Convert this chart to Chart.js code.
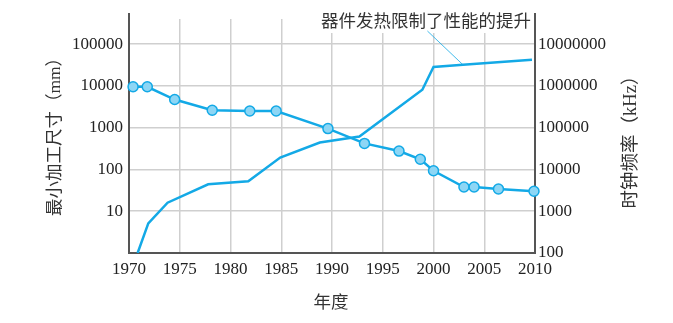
<!DOCTYPE html>
<html>
<head>
<meta charset="utf-8">
<script src="https://cdn.jsdelivr.net/npm/chart.js@4/dist/chart.umd.min.js"></script>
<style>
  html, body { margin: 0; padding: 0; background: #fff; }
  #wrap { width: 673px; height: 323px; position: relative; }
</style>
</head>
<body>
<div id="wrap"><canvas id="chipChart"></canvas></div>
<script>
// 最小加工尺寸 (左轴, mm)
const sizeYears  = [1970.4, 1971.8, 1974.5, 1978.2, 1981.9, 1984.5, 1989.6, 1993.2, 1996.6, 1998.7, 2000.0, 2003.0, 2004.0, 2006.4, 2009.9];
const sizeValues = [9500, 9500, 4700, 2600, 2500, 2500, 950, 420, 275, 175, 93, 38, 38, 34, 30];

// 时钟频率 (右轴, kHz)
const clockYears  = [1970.85, 1971.9, 1973.8, 1977.8, 1981.75, 1984.9, 1988.8, 1992.7, 1998.9, 2000.0, 2002.9, 2009.7];
const clockValues = [100, 510, 1600, 4400, 5200, 19300, 44000, 61000, 810000, 2840000, 3200000, 4200000];

// 刻度
const yearTicks  = [1970, 1975, 1980, 1985, 1990, 1995, 2000, 2005, 2010];
const leftTicks  = [10, 100, 1000, 10000, 100000];
const rightTicks = [100, 1000, 10000, 100000, 1000000, 10000000];

const annoText = '器件发热限制了性能的提升';
const annoIndex = 10; // 指向 2003 年附近的时钟频率点

const blue = '#13a9e6';
const FONT = "'Liberation Serif', 'Noto Sans CJK SC', serif";

const extrasPlugin = {
    id: 'extras',
    afterDraw(chart) {
        const c = chart.ctx;
        const a = chart.chartArea;
        const x = chart.scales.x;
        const yr = chart.scales.yR;
        c.save();

        // 轴线向上延伸一点
        c.strokeStyle = '#555';
        c.lineWidth = 2;
        c.beginPath();
        c.moveTo(a.left, a.top - 6); c.lineTo(a.left, a.top);
        c.moveTo(a.right, a.top - 6); c.lineTo(a.right, a.top);
        c.stroke();

        // 标注文字 + 引线
        c.font = '17.5px ' + FONT;
        c.textAlign = 'right';
        c.textBaseline = 'middle';
        const tw = c.measureText(annoText).width;
        const tx = a.right - 4;
        const ty = a.top + 3;
        c.fillStyle = '#fff';
        c.fillRect(tx - tw - 2, a.top - 1, tw + 4, 15);
        c.fillStyle = '#333';
        c.fillText(annoText, tx, ty);

        c.strokeStyle = blue;
        c.lineWidth = 0.8;
        c.beginPath();
        c.moveTo(x.getPixelForValue(1999.4), a.top + 12);
        c.lineTo(x.getPixelForValue(clockYears[annoIndex]), yr.getPixelForValue(clockValues[annoIndex]));
        c.stroke();

        // 轴标题
        c.fillStyle = '#333';
        c.textAlign = 'center';
        c.textBaseline = 'middle';
        c.fillText('年度', (a.left + a.right) / 2 - 1, a.bottom + 50);

        c.save();
        c.translate(55, (a.top + a.bottom) / 2 - 3.5);
        c.rotate(-Math.PI / 2);
        c.fillText('最小加工尺寸（mm）', 0, 0);
        c.restore();

        c.save();
        c.translate(631, (a.top + a.bottom) / 2 + 1.5);
        c.rotate(-Math.PI / 2);
        c.font = '18.5px ' + FONT;
        c.fillText('时钟频率（kHz）', 0, 0);
        c.restore();

        c.restore();
    }
};

new Chart(document.getElementById('chipChart'), {
    type: 'line',
    data: {
        datasets: [
            {
                label: '最小加工尺寸',
                data: sizeYears.map((yr, i) => ({ x: yr, y: sizeValues[i] })),
                yAxisID: 'yL',
                borderColor: blue,
                borderWidth: 2.5,
                pointRadius: 5,
                pointBackgroundColor: '#8dd6f5',
                pointBorderColor: blue,
                pointBorderWidth: 1.5,
                tension: 0,
                clip: false
            },
            {
                label: '时钟频率',
                data: clockYears.map((yr, i) => ({ x: yr, y: clockValues[i] })),
                yAxisID: 'yR',
                borderColor: blue,
                borderWidth: 2.5,
                pointRadius: 0,
                tension: 0
            }
        ]
    },
    options: {
        responsive: true,
        maintainAspectRatio: false,
        animation: false,
        layout: { padding: { top: 19, left: 0, right: 0, bottom: 0 } },
        plugins: { legend: { display: false }, tooltip: { enabled: false } },
        scales: {
            x: {
                type: 'linear',
                min: 1970,
                max: 2010,
                afterBuildTicks: s => { s.ticks = yearTicks.map(v => ({ value: v })); },
                afterFit: s => { s.height = 70; },
                grid: { color: '#cfcfcf', lineWidth: 1.5, drawTicks: false },
                border: { color: '#555', width: 2 },
                ticks: { color: '#222', padding: 6, font: { family: FONT, size: 17 }, callback: v => String(v) }
            },
            yL: {
                type: 'logarithmic',
                position: 'left',
                min: 1,
                max: 398000,
                afterBuildTicks: s => { s.ticks = leftTicks.map(v => ({ value: v })); },
                afterFit: s => { s.width = 129; },
                grid: { color: '#cfcfcf', lineWidth: 1.5, drawTicks: false },
                border: { color: '#555', width: 2 },
                ticks: { color: '#222', padding: 6, font: { family: FONT, size: 17 }, callback: v => String(v) }
            },
            yR: {
                type: 'logarithmic',
                position: 'right',
                min: 100,
                max: 39800000,
                afterBuildTicks: s => { s.ticks = rightTicks.map(v => ({ value: v })); },
                afterFit: s => { s.width = 138; },
                grid: { drawOnChartArea: false, drawTicks: false },
                border: { color: '#555', width: 2 },
                ticks: { color: '#222', padding: 3, font: { family: FONT, size: 17 }, callback: v => String(v) }
            }
        }
    },
    plugins: [extrasPlugin]
});
</script>
</body>
</html>
